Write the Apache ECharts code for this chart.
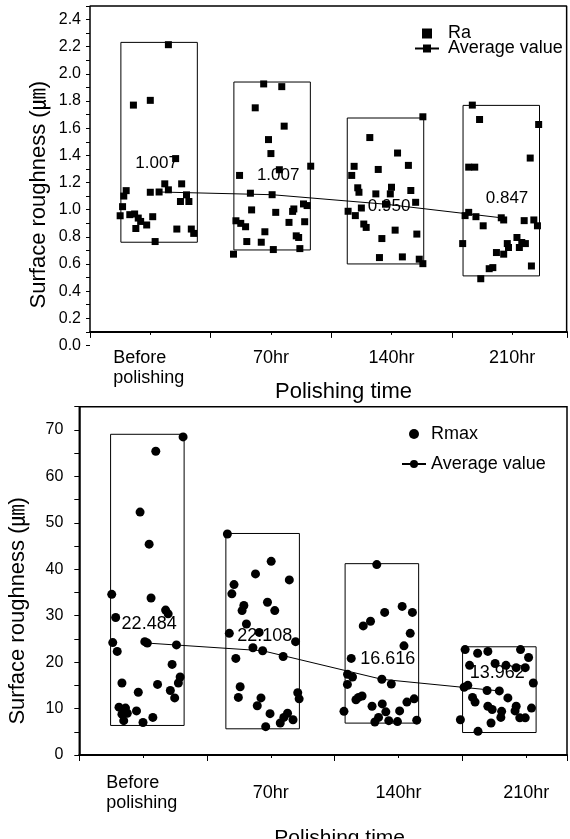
<!DOCTYPE html>
<html>
<head>
<meta charset="utf-8">
<script src="https://cdn.jsdelivr.net/npm/echarts@6/dist/echarts.min.js"></script>
<style>
  html, body { margin: 0; padding: 0; background: #fff; overflow: hidden; }
  #main { width: 570px; height: 839px; }
</style>
</head>
<body>
<div id="main"></div>
<script>
// categories on the x axis (value axis, group i sits between i and i+1)
const categories = ['Before\npolishing', '70hr', '140hr', '210hr'];
const labelPos = [0.5, 1.5, 2.5, 3.5];

// ---- top chart: Ra ----
const raBefore = [[0.65,2.215],[0.36,1.77],[0.50,1.805],[0.71,1.376],[0.30,1.14],[0.28,1.10],[0.50,1.128],
  [0.62,1.19],[0.65,1.146],[0.76,1.19],[0.80,1.109],[0.75,1.06],[0.82,1.06],[0.27,1.022],[0.25,0.955],
  [0.33,0.963],[0.37,0.968],[0.40,0.938],[0.42,0.913],[0.52,0.948],[0.38,0.861],[0.47,0.887],[0.72,0.857],
  [0.84,0.857],[0.86,0.825],[0.54,0.765]];
const ra70 = [[1.44,1.926],[1.59,1.906],[1.37,1.75],[1.61,1.615],[1.48,1.516],[1.50,1.413],[1.83,1.32],
  [1.57,1.294],[1.24,1.252],[1.33,1.121],[1.77,1.042],[1.80,1.03],[1.34,0.998],[1.54,0.98],[1.68,0.987],
  [1.69,1.005],[1.21,0.918],[1.25,0.899],[1.29,0.874],[1.65,0.906],[1.78,0.911],[1.45,0.837],[1.71,0.807],
  [1.73,0.795],[1.30,0.765],[1.42,0.76],[1.52,0.706],[1.74,0.713],[1.19,0.672]];
const ra140 = [[2.76,1.684],[2.32,1.531],[2.55,1.417],[2.19,1.319],[2.17,1.252],[2.39,1.296],[2.64,1.326],
  [2.22,1.161],[2.23,1.128],[2.37,1.116],[2.50,1.165],[2.49,1.116],[2.66,1.141],[2.70,1.054],[2.14,0.988],
  [2.20,0.956],[2.25,1.012],[2.27,0.894],[2.29,0.869],[2.42,0.787],[2.53,0.849],[2.71,0.82],[2.40,0.647],
  [2.59,0.652],[2.73,0.635],[2.76,0.602]];
const ra210 = [[3.17,1.77],[3.23,1.664],[3.72,1.627],[3.65,1.38],[3.14,1.313],[3.19,1.313],[3.14,0.98],
  [3.11,0.956],[3.20,0.948],[3.43,0.924],[3.60,0.919],[3.68,0.924],[3.71,0.881],[3.26,0.881],[3.09,0.75],
  [3.54,0.795],[3.58,0.758],[3.61,0.75],[3.46,0.75],[3.47,0.721],[3.37,0.684],[3.43,0.672],[3.56,0.721],
  [3.66,0.585],[3.31,0.565],[3.34,0.573],[3.24,0.491]];
const raGroupPos = [0.573, 1.51, 2.45, 3.41];
const raBoxLow = [0.76, 0.703, 0.60, 0.512];
const raBoxHigh = [2.232, 1.94, 1.675, 1.768];
const raAvg = [1.13, 1.11, 1.04, 0.94];
const raAvgText = ['1.007', '1.007', '0.950', '0.847'];
const raTextX = [0.552, 1.56, 2.48, 3.458];
const raTextY = [1.338, 1.253, 1.028, 1.085];

// ---- bottom chart: Rmax ----
const rmaxBefore = [[0.813,68.5],[0.599,65.4],[0.476,52.3],[0.547,45.4],[0.254,34.6],[0.562,33.8],[0.676,31.2],
  [0.696,30.4],[0.285,29.6],[0.262,24.2],[0.297,22.3],[0.513,24.4],[0.761,23.7],[0.727,19.5],[0.334,15.5],
  [0.613,15.2],[0.79,16.8],[0.776,15.5],[0.713,13.9],[0.747,12.3],[0.462,13.5],[0.311,10.3],[0.362,10.1],
  [0.334,8.8],[0.376,9.0],[0.448,9.5],[0.348,7.4],[0.499,7.0],[0.576,8.1]];
const rmax70 = [[1.16,47.6],[1.503,41.7],[1.38,39.0],[1.645,37.7],[1.212,36.7],[1.195,34.7],[1.474,32.9],
  [1.289,32.2],[1.275,31.1],[1.531,31.1],[1.309,28.2],[1.175,26.2],[1.409,26.4],[1.694,24.4],[1.36,23.1],
  [1.597,21.2],[1.226,20.8],[1.26,14.7],[1.246,12.4],[1.423,12.3],[1.394,10.6],[1.711,13.4],[1.722,12.1],
  [1.494,8.9],[1.631,9.0],[1.602,8.1],[1.674,7.6],[1.574,6.9],[1.46,6.1]];
const rmax140 = [[2.33,41.0],[2.529,32.0],[2.609,30.7],[2.392,30.7],[2.281,28.8],[2.224,27.8],[2.592,26.2],
  [2.543,23.5],[2.13,20.8],[2.101,17.4],[2.14,16.8],[2.10,15.2],[2.444,15.3],[2.187,12.4],[2.215,12.7],
  [2.167,11.9],[2.293,10.5],[2.373,11.0],[2.566,11.4],[2.623,12.1],[2.073,9.4],[2.401,9.3],[2.509,9.5],
  [2.344,8.1],[2.315,7.1],[2.424,7.4],[2.492,7.2],[2.643,7.5]];
const rmax210 = [[3.022,22.7],[3.12,21.9],[3.2,22.3],[3.456,22.7],[3.519,21.0],[3.057,19.3],[3.257,19.7],
  [3.342,19.3],[3.422,18.8],[3.493,18.8],[3.556,15.5],[3.014,14.6],[3.043,15.0],[3.194,13.9],[3.357,12.3],
  [3.08,12.4],[3.1,11.4],[3.2,10.5],[3.234,9.8],[3.308,9.4],[3.422,10.5],[3.413,9.5],[3.542,10.1],
  [3.302,8.1],[3.45,8.0],[3.493,8.0],[3.225,6.9],[2.985,7.6],[3.123,5.1]];
const rmaxGroupPos = [0.533, 1.436, 2.37, 3.29];
const rmaxBoxLow = [6.36, 5.64, 6.87, 4.84];
const rmaxBoxHigh = [69.06, 47.7, 41.2, 23.3];
const rmaxAvg = [24.1, 22.45, 16.3, 13.8];
const rmaxAvgText = ['22.484', '22.108', '16.616', '13.962'];
const rmaxTextX = [0.547, 1.453, 2.416, 3.273];
const rmaxTextY = [28.2, 25.7, 20.65, 17.75];

const FONT = "'Liberation Sans', Arial, 'Noto Sans CJK JP', sans-serif";
const TOP_XMAX = 3.955, BOT_XMAX = 3.82;

let myChart = echarts.init(document.getElementById('main'));

function boxSeries(name, xi, pos, low, high, hw) {
  return {
    name: name, type: 'custom', xAxisIndex: xi, yAxisIndex: xi, silent: true, z: 1,
    renderItem: function (params, api) {
      let x = api.value(0);
      let p0 = api.coord([x - hw, api.value(2)]);
      let p1 = api.coord([x + hw, api.value(1)]);
      return {
        type: 'rect',
        shape: { x: p0[0], y: p0[1], width: p1[0] - p0[0], height: p1[1] - p0[1] },
        style: { fill: 'none', stroke: '#000', lineWidth: 1 }
      };
    },
    data: pos.map((p, i) => [p, low[i], high[i]])
  };
}

function textSeries(xi, xs, ys, texts, size) {
  return {
    type: 'scatter', xAxisIndex: xi, yAxisIndex: xi, silent: true, z: 5,
    symbolSize: 0, itemStyle: { opacity: 1 },
    label: {
      show: true, position: 'inside', color: '#000', fontSize: size, fontFamily: FONT,
      formatter: p => texts[p.dataIndex]
    },
    data: xs.map((x, i) => [x, ys[i]])
  };
}

function xAxisOf(gi, max, offset, labelMargin, vAlign, nameGap, nameSize, namePad) {
  return {
    gridIndex: gi, type: 'value', min: 0, max: max, interval: 1, offset: offset,
    axisLine: { show: true, lineStyle: { color: '#000', width: 2 } },
    axisTick: { show: true, length: 6, lineStyle: { color: '#000', width: 1 } },
    minorTick: { show: true, splitNumber: 2, length: 3, lineStyle: { color: '#000', width: 1 } },
    splitLine: { show: false },
    axisLabel: {
      customValues: labelPos,
      margin: labelMargin, verticalAlign: vAlign,
      color: '#000', fontSize: 18, fontFamily: FONT, lineHeight: 20,
      formatter: function (v) {
        let c = categories[Math.floor(v)];
        if (c.indexOf('\n') >= 0) {
          return c.split('\n').map(s => '{l|' + s + '}').join('\n');
        }
        return c;
      },
      rich: { l: { width: 74, align: 'left', fontSize: 18, lineHeight: 20, color: '#000', fontFamily: FONT } }
    },
    name: 'Polishing time', nameLocation: 'middle', nameGap: nameGap, nameMoveOverlap: false,
    nameTextStyle: { color: '#000', fontSize: nameSize, fontFamily: FONT, padding: [0, 0, 0, namePad] }
  };
}

let option = {
  animation: false,
  textStyle: { fontFamily: FONT },
  grid: [
    { left: 90, top: 6, width: 477, height: 339.4, outerBoundsMode: 'none' },
    { left: 79.3, top: 406.7, width: 487.7, height: 348.3, outerBoundsMode: 'none',
      show: true, borderColor: '#000', borderWidth: 1.5 }
  ],
  legend: [
    {
      orient: 'vertical', left: 409, top: 19.5, itemGap: -3, itemWidth: 24, itemHeight: 10,
      selectedMode: false,
      data: [{ name: 'Ra', icon: 'path://M0,0h10v10h-10z' }, 'Average value'],
      textStyle: { color: '#000', fontSize: 18, lineHeight: 15, padding: [0, 0, 0, 4] }
    },
    {
      orient: 'vertical', left: 396, top: 419, itemGap: 10, itemWidth: 24, itemHeight: 10,
      selectedMode: false, data: ['Rmax', 'Average value (Rmax)'],
      formatter: name => name.indexOf('Average') === 0 ? 'Average value' : name,
      textStyle: { color: '#000', fontSize: 18, lineHeight: 20, padding: [0, 0, 0, 0] }
    }
  ],
  xAxis: [
    xAxisOf(0, TOP_XMAX, -13.5, 16, 'top', 49, 22, 30),
    xAxisOf(1, BOT_XMAX, 0, 38, 'middle', 73, 21, 33)
  ],
  yAxis: [
    {
      gridIndex: 0, type: 'value', min: 0, max: 2.5, interval: 0.1,
      axisLine: { show: false },
      axisTick: { show: true, length: 4, lineStyle: { color: '#000' } },
      splitLine: { show: false },
      axisLabel: {
        margin: 9, color: '#000', fontSize: 16, fontFamily: FONT,
        formatter: v => (Math.round(v * 10) % 2 === 0 && v < 2.45) ? v.toFixed(1) : ''
      },
      name: 'Surface roughness (\u339B)', nameLocation: 'middle', nameRotate: 90, nameGap: 40,
      nameMoveOverlap: false,
      nameTextStyle: { color: '#000', fontSize: 22, fontFamily: FONT, padding: [0, 38, 0, 0] }
    },
    {
      gridIndex: 1, type: 'value', min: 0, max: 75, interval: 5,
      axisLine: { show: true, lineStyle: { color: '#000', width: 1.5 } },
      axisTick: { show: true, length: 5, lineStyle: { color: '#000' } },
      splitLine: { show: false },
      axisLabel: {
        margin: 16, color: '#000', fontSize: 16, fontFamily: FONT,
        formatter: v => (Math.round(v) % 10 === 0 && v <= 70) ? String(Math.round(v)) : ''
      },
      name: 'Surface roughness (\u339B)', nameLocation: 'middle', nameRotate: 90, nameGap: 50,
      nameMoveOverlap: false,
      nameTextStyle: { color: '#000', fontSize: 22, fontFamily: FONT, padding: [0, 60, 0, 0] }
    }
  ],
  series: [
    {
      // plot frame of the top chart: it starts at 0.1 (the 0.0 label hangs below the x axis)
      type: 'line', xAxisIndex: 0, yAxisIndex: 0, silent: true, z: 2, clip: false,
      symbol: 'none', lineStyle: { color: '#000', width: 1.5 },
      data: [[0, 0.1], [0, 2.5], [TOP_XMAX - 0.003, 2.5], [TOP_XMAX - 0.003, 0.1]]
    },
    boxSeries('raBox', 0, raGroupPos, raBoxLow, raBoxHigh, 0.317),
    {
      name: 'Ra', type: 'scatter', xAxisIndex: 0, yAxisIndex: 0, z: 3,
      symbol: 'rect', symbolSize: 7, itemStyle: { color: '#000', opacity: 1 },
      data: [].concat(raBefore, ra70, ra140, ra210)
    },
    {
      name: 'Average value', type: 'line', xAxisIndex: 0, yAxisIndex: 0, z: 4,
      symbol: 'rect', symbolSize: 7, itemStyle: { color: '#000' },
      lineStyle: { color: '#000', width: 1 },
      data: raGroupPos.map((p, i) => [p, raAvg[i]])
    },
    textSeries(0, raTextX, raTextY, raAvgText, 17),

    boxSeries('rmaxBox', 1, rmaxGroupPos, rmaxBoxLow, rmaxBoxHigh, 0.288),
    {
      name: 'Rmax', type: 'scatter', xAxisIndex: 1, yAxisIndex: 1, z: 3,
      symbol: 'circle', symbolSize: 9, itemStyle: { color: '#000', opacity: 1 },
      data: [].concat(rmaxBefore, rmax70, rmax140, rmax210)
    },
    {
      name: 'Average value (Rmax)', type: 'line', xAxisIndex: 1, yAxisIndex: 1, z: 4,
      symbol: 'circle', symbolSize: 9, itemStyle: { color: '#000' },
      lineStyle: { color: '#000', width: 1 },
      data: rmaxGroupPos.map((p, i) => [p, rmaxAvg[i]])
    },
    textSeries(1, rmaxTextX, rmaxTextY, rmaxAvgText, 18)
  ]
};
myChart.setOption(option);
</script>
</body>
</html>
